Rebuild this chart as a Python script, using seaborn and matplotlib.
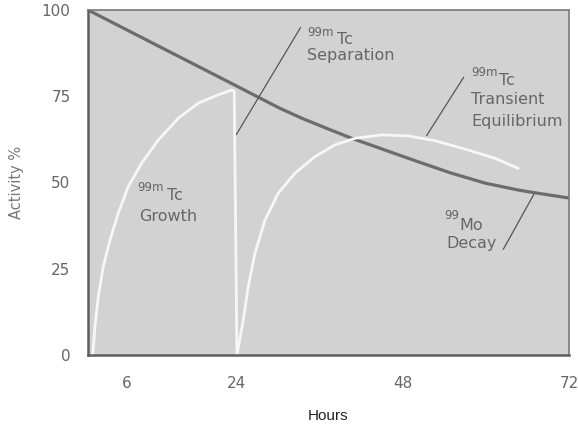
import matplotlib
matplotlib.use("Agg")
import matplotlib.pyplot as plt
import seaborn as sns
import pandas as pd

# ---- data ----
mo_hours = [2.46, 12.0, 24.0, 30.0, 33.4, 37.2, 40.6, 45.4, 50.2, 55.0,
            59.9, 64.7, 67.1, 72.0]
mo_activity = [100.0, 90.2, 77.9, 71.7, 68.6, 65.5, 62.8, 59.4, 56.0, 52.7,
               49.8, 47.8, 47.0, 45.5]

tc_hours = [3.15, 3.47, 3.95, 4.67, 5.64, 6.84, 8.29, 10.22, 12.62, 15.51,
            18.4, 21.3, 23.23, 23.6, 24.0,
            24.91, 25.63, 26.6, 28.05, 29.97, 32.39, 35.28, 38.17, 41.06,
            44.92, 48.77, 52.63, 57.44, 61.3, 64.67]
tc_activity = [0.0, 8.2, 16.9, 25.6, 33.3, 41.1, 48.8, 55.6, 62.3, 68.6,
               73.0, 75.4, 76.8, 76.5, 0.0,
               10.1, 19.8, 29.5, 39.1, 46.9, 52.7, 57.5, 60.9, 62.8,
               63.8, 63.5, 62.1, 59.4, 57.0, 54.1]

y_ticks = [0, 25, 50, 75, 100]
x_tick_pos = [8.1, 24, 48, 72]
x_tick_labels = ["6", "24", "48", "72"]

mo_df = pd.DataFrame({"Hours": mo_hours, "Activity": mo_activity})
tc_df = pd.DataFrame({"Hours": tc_hours, "Activity": tc_activity})

sns.set_theme(style="white")
plt.rcParams["font.family"] = ["DejaVu Sans"]

fig = plt.figure(figsize=(5.78, 4.26), dpi=100)
ax = fig.add_axes([0.1522, 0.1667, 0.8322, 0.8099])
ax.set_facecolor("#d2d2d2")

sns.lineplot(data=mo_df, x="Hours", y="Activity", ax=ax, color="#6c6c6c",
             linewidth=2.3, estimator=None, sort=False,
             solid_capstyle="butt", solid_joinstyle="round")
sns.lineplot(data=tc_df, x="Hours", y="Activity", ax=ax, color="#f7f7f7",
             linewidth=2.0, estimator=None, sort=False,
             solid_capstyle="round", solid_joinstyle="round")

ax.set_xlim(2.46, 72.0)
ax.set_ylim(0, 100)
ax.set_yticks(y_ticks)
ax.set_xticks(x_tick_pos)
ax.set_xticklabels(x_tick_labels)
ax.set_xlabel("")
ax.set_ylabel("")

ax.tick_params(axis="both", which="major", direction="out", length=7,
               width=1.2, color="#777777", labelcolor="#666666", labelsize=11)
ax.tick_params(axis="y", pad=5.5)
ax.tick_params(axis="x", pad=8)

for side in ["left", "bottom"]:
    ax.spines[side].set_color("#5e5e5e")
    ax.spines[side].set_linewidth(1.8)
for side in ["top", "right"]:
    ax.spines[side].set_color("#7a7a7a")
    ax.spines[side].set_linewidth(1.2)
    ax.spines[side].set_visible(True)

txt_col = "#666666"
big = 11.5
small = 8.5


def label(x_sup, x_main, y_sup, y_main, sup, main, lines):
    ax.text(x_sup, y_sup, sup, fontsize=small, color=txt_col, ha="left", va="center")
    ax.text(x_main, y_main, main, fontsize=big, color=txt_col, ha="left", va="center")
    for (xx, yy, s) in lines:
        ax.text(xx, yy, s, fontsize=big, color=txt_col, ha="left", va="center")


# Separation
label(34.1, 38.4, 93.6, 91.4, "99m", "Tc", [(34.1, 86.7, "Separation")])
ax.annotate("", xy=(23.7, 63.2), xytext=(33.4, 95.6),
            arrowprops=dict(arrowstyle="-", color="#555555", lw=0.9))
# Transient equilibrium
label(57.9, 61.9, 82.0, 79.6, "99m", "Tc",
      [(57.9, 74.0, "Transient"), (57.9, 67.8, "Equilibrium")])
ax.annotate("", xy=(51.2, 62.9), xytext=(57.0, 81.2),
            arrowprops=dict(arrowstyle="-", color="#555555", lw=0.9))
# Mo decay
label(54.0, 56.2, 40.3, 37.5, "99", "Mo", [(54.3, 32.2, "Decay")])
ax.annotate("", xy=(62.3, 29.9), xytext=(67.1, 47.2),
            arrowprops=dict(arrowstyle="-", color="#555555", lw=0.9))
# Growth
label(9.6, 13.9, 48.4, 46.2, "99m", "Tc", [(9.8, 40.0, "Growth")])

fig.text(17 / 578, 1 - 182 / 426, "Activity %", rotation=90, ha="center",
         va="center", fontsize=10.5, color="#777777")
fig.text(328 / 578, 1 - 416 / 426, "Hours", ha="center", va="center",
         fontsize=11, color="#222222", family=["Liberation Sans", "DejaVu Sans"])

fig.savefig("out.png", dpi=100)
